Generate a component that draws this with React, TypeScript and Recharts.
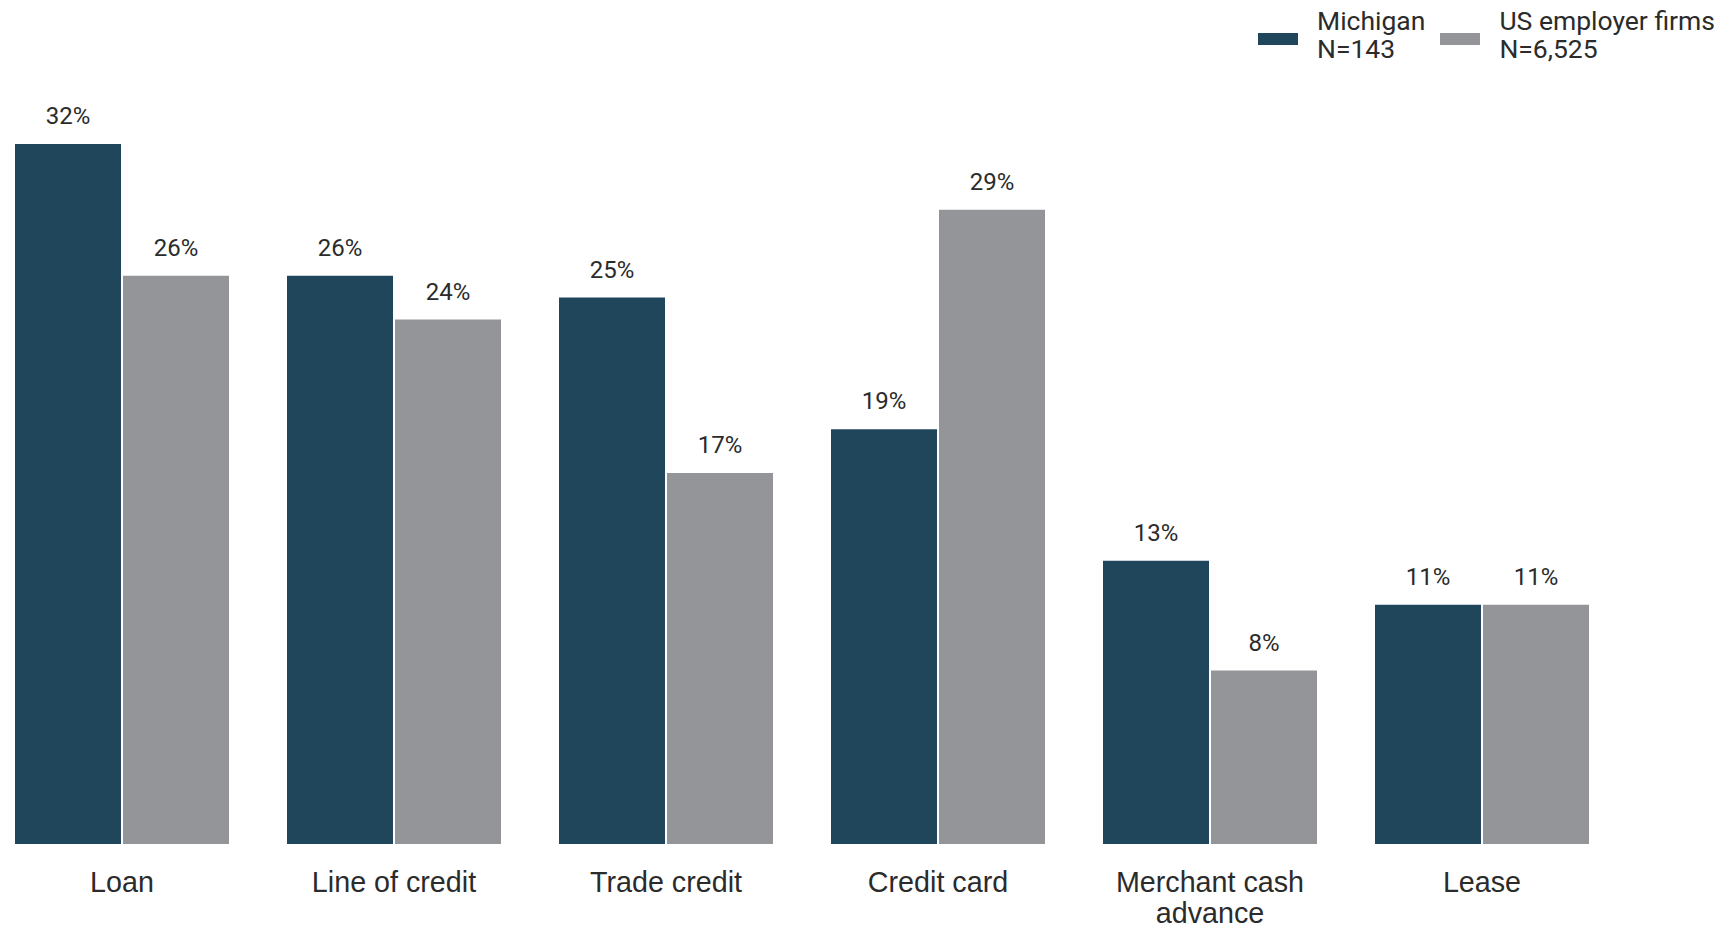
import { BarChart, Bar, XAxis, YAxis, LabelList } from "recharts";

const categories = ["Loan", "Line of credit", "Trade credit", "Credit card", "Merchant cash advance", "Lease"];
const tickLines = [["Loan"], ["Line of credit"], ["Trade credit"], ["Credit card"], ["Merchant cash", "advance"], ["Lease"]];
const michigan = [32, 26, 25, 19, 13, 11];
const usFirms = [26, 24, 17, 29, 8, 11];

const series = [
  { key: "michigan", name: "Michigan", sub: "N=143", color: "#20465C" },
  { key: "us", name: "US employer firms", sub: "N=6,525", color: "#949598" },
];

const data = categories.map((c, i) => ({ category: c, michigan: michigan[i], us: usFirms[i] }));

const TEXT = "#2b2b2b";

function CategoryTick({ x, y, payload }: { x?: number; y?: number; payload?: { value: string; index: number } }) {
  const idx = categories.indexOf(payload?.value ?? "");
  const lines = idx >= 0 ? tickLines[idx] : [payload?.value ?? ""];
  return (
    <text x={x} y={y} textAnchor="middle" fill={TEXT} fontFamily="'Liberation Sans', Arial, sans-serif" fontSize={28.7}>
      {lines.map((l, i) => (
        <tspan key={i} x={x} dy={i === 0 ? 47 : 30.5}>
          {l}
        </tspan>
      ))}
    </text>
  );
}

export default function App() {
  return (
    <div style={{ position: "relative", width: 1727, height: 927, margin: "-8px 0 0 -8px", overflow: "hidden", background: "#fff" }}>
      {/* legend */}
      <div style={{ position: "absolute", left: 1258, top: 7, display: "flex", fontFamily: "Roboto, sans-serif", fontSize: 26.5, lineHeight: "28px", color: TEXT }}>
        {series.map((s, i) => (
          <div key={s.key} style={{ display: "flex", alignItems: "flex-start", marginRight: i === 0 ? 15 : 0 }}>
            <span style={{ width: 40, height: 12, background: s.color, marginTop: 26, marginRight: 19, flexShrink: 0 }} />
            <div>
              <div>{s.name}</div>
              <div>{s.sub}</div>
            </div>
          </div>
        ))}
      </div>

      <div style={{ position: "absolute", left: -14, top: 0 }}>
        <BarChart
          width={1632}
          height={927}
          data={data}
          margin={{ top: 143, right: 0, bottom: 0, left: 0 }}
          barCategoryGap={28}
          barGap={0}
        >
          <YAxis hide domain={[0, 32]} />
          <XAxis
            dataKey="category"
            axisLine={false}
            tickLine={false}
            tickSize={0}
            tickMargin={0}
            height={82}
            interval={0}
            tick={<CategoryTick />}
          />
          {series.map((s) => (
            <Bar key={s.key} dataKey={s.key} name={s.name} fill={s.color} stroke="#fff" strokeWidth={2} isAnimationActive={false}>
              <LabelList
                dataKey={s.key}
                position="top"
                offset={19}
                formatter={(v: number) => `${v}%`}
                style={{ fontFamily: "Roboto, sans-serif", fontSize: 24, fill: TEXT }}
              />
            </Bar>
          ))}
        </BarChart>
      </div>
    </div>
  );
}
